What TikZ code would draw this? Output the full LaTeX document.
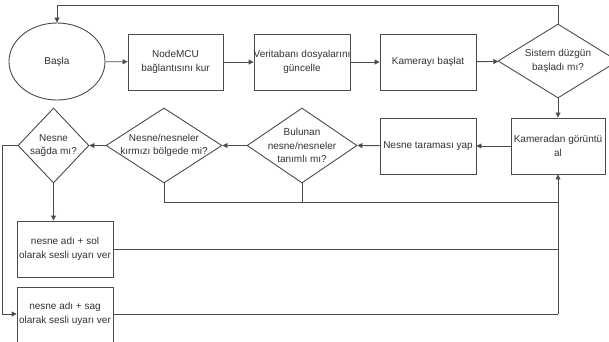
\documentclass[tikz,border=0pt]{standalone}
\usepackage{fontspec}
\setmainfont{Liberation Sans}
\usetikzlibrary{shapes.geometric,arrows.meta}
\definecolor{linec}{RGB}{75,75,75}
\definecolor{textc}{RGB}{50,50,50}
\tikzset{
  base/.style={draw=linec, line width=0.9pt, inner sep=0pt, text=textc,
    font=\fontsize{10}{13.5}\selectfont, align=center},
  boxnode/.style={base, rectangle, minimum width=#1, minimum height=56},
  ellnode/.style={base, ellipse, minimum width=96, minimum height=77},
  dianode/.style={draw=linec, line width=0.9pt, diamond, inner sep=0pt, aspect=1},
  lbl/.style={text=textc, font=\fontsize{10}{13.5}\selectfont, align=center, inner sep=0pt},
  conn/.style={draw=linec, line width=0.9pt},
  arr/.style={conn, -{Triangle[length=5pt,width=5pt]}}
}
\begin{document}
\begin{tikzpicture}[x=1pt,y=-1pt]
\useasboundingbox[fill=white] (0,0) rectangle (609,341);
\clip (0,0) rectangle (609,341);

% top row
\node[ellnode] (start) at (57,61.5) {Başla};
\node[boxnode=95] (mcu) at (175.5,62) {NodeMCU\\bağlantısını kur};
\node[boxnode=96] (db) at (302,62) {\makebox[0pt]{Veritabanı dosyalarını}\\güncelle};
\node[boxnode=96] (cam) at (428,62) {Kamerayı başlat};
\node[dianode, minimum width=120, minimum height=74] (sys) at (558,61) {};
\node[lbl] (syst) at (sys.center) {Sistem düzgün\\başladı mı?};

% second row
\node[boxnode=94] (kam) at (558,146) {Kameradan görüntü\\al};
\node[boxnode=96] (tar) at (428,146) {Nesne taraması yap};
\node[dianode, minimum width=110, minimum height=75] (bul) at (302,145.5) {};
\node[lbl] (bult) at (bul.center) {Bulunan\\nesne/nesneler\\tanımlı mı?};
\node[dianode, minimum width=116, minimum height=75] (kir) at (164,145.5) {};
\node[lbl] (kirt) at (kir.center) {Nesne/nesneler\\kırmızı bölgede mi?};
\node[dianode, minimum width=71, minimum height=75] (sag) at (53.5,145.5) {};
\node[lbl] (sagt) at (sag.center) {Nesne\\sağda mı?};

% bottom boxes
\node[boxnode=96] (sol) at (65,249) {nesne adı + sol\\olarak sesli uyarı ver};
\node[base, rectangle, minimum width=96, minimum height=56, anchor=north] (sagbox) at (65,287) {};
\node[lbl] (sagboxt) at (65,314) {nesne adı + sag\\olarak sesli uyarı ver};

% coordinates
\coordinate (bus) at (558,314);

% connectors
\draw[arr] (start) -- (mcu);
\draw[arr] (mcu) -- (db);
\draw[arr] (db) -- (cam);
\draw[arr] (cam) -- (sys);
\draw[arr] (sys.south) -- (kam.north);
\draw[arr] (kam) -- (tar);
\draw[arr] (tar) -- (bul.east);
\draw[arr] (bul.west) -- (kir.east);
\draw[arr] (kir.west) -- (sag.east);
\draw[arr] (sag.south) -- (sag.south |- sol.north);
\draw[arr] (sag.west) -- ++(-15,0) |- (sagbox.west |- bus);
\draw[arr] (sys.north) |- (57,5) -- (start.north);
\draw[conn] (bul.south) -- (302,202.5);
\draw[conn] (kir.south) |- (558,202.5);
\draw[conn] (sol.east) -- (sol.east -| bus);
\draw[conn] (sagbox.east |- bus) -- (bus);
\draw[arr] (bus) -- (kam.south);
\end{tikzpicture}
\end{document}
